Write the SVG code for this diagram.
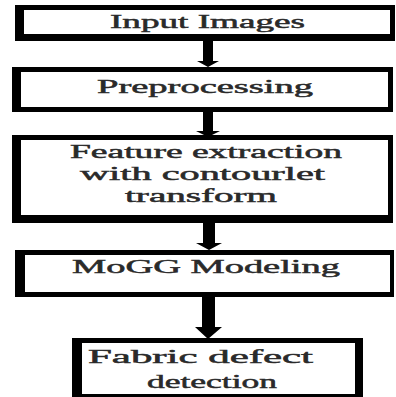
<svg xmlns="http://www.w3.org/2000/svg" width="396" height="397" viewBox="0 0 396 397">
<style>
.o{fill:#000}
.i{fill:#fff}
.t{font-family:"Liberation Serif","Times New Roman",serif;font-size:19px;font-weight:normal;fill:#2a2a2a;stroke:#2a2a2a;stroke-width:0.5}
.a{fill:#000}
</style>
<rect width="396" height="397" fill="#fff"/>
<g id="connectors">
<polygon class="a" points="203,40 213,40 213,61 219,61 208,67 197,61 203,61"/>
<polygon class="a" points="203,111 213,111 213,131 220,131 208,137 196,131 203,131"/>
<polygon class="a" points="203,222 215,222 215,243 222,243 209,250 196,243 203,243"/>
<polygon class="a" points="202,296 215,296 215,327 222,327 208,339 195,327 202,327"/>
</g>
<g id="n1">
<rect class="o" x="15" y="5" width="380" height="36"/>
<rect class="i" x="24" y="10" width="366" height="24"/>
<text class="t" x="110" y="28" textLength="195" lengthAdjust="spacingAndGlyphs">Input Images</text>
</g>
<g id="n2">
<rect class="o" x="12" y="67" width="381" height="45"/>
<rect class="i" x="21" y="72" width="367" height="35"/>
<text class="t" x="97" y="93" textLength="216" lengthAdjust="spacingAndGlyphs">Preprocessing</text>
</g>
<g id="n3">
<rect class="o" x="12" y="135" width="381" height="88"/>
<rect class="i" x="21" y="140" width="367" height="75"/>
<text class="t" x="70" y="158" textLength="272" lengthAdjust="spacingAndGlyphs">Feature extraction</text>
<text class="t" x="80" y="180" textLength="245" lengthAdjust="spacingAndGlyphs">with contourlet</text>
<text class="t" x="125" y="202" textLength="152" lengthAdjust="spacingAndGlyphs">transform</text>
</g>
<g id="n4">
<rect class="o" x="15" y="250" width="379" height="47"/>
<rect class="i" x="25" y="255" width="365" height="37"/>
<text class="t" x="72" y="273" textLength="268" lengthAdjust="spacingAndGlyphs">MoGG Modeling</text>
</g>
<g id="n5">
<rect class="o" x="72" y="338" width="291" height="62"/>
<rect class="i" x="82" y="343" width="273" height="51"/>
<text class="t" x="88" y="363" textLength="225" lengthAdjust="spacingAndGlyphs">Fabric defect</text>
<text class="t" x="147" y="388" textLength="130" lengthAdjust="spacingAndGlyphs">detection</text>
</g>
</svg>
